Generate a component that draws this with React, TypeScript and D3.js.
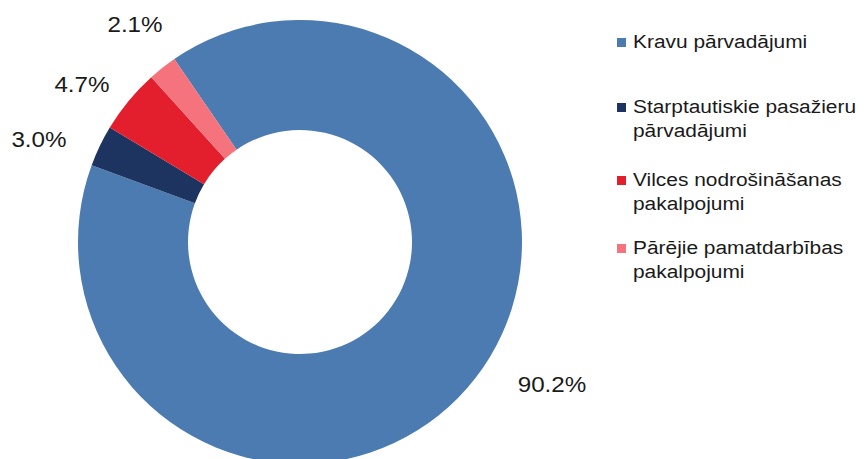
import React from "react";
import * as d3 from "d3";

const categories = [
  "Kravu pārvadājumi",
  "Starptautiskie pasažieru pārvadājumi",
  "Vilces nodrošināšanas pakalpojumi",
  "Pārējie pamatdarbības pakalpojumi",
];
const legendLines = [
  ["Kravu pārvadājumi"],
  ["Starptautiskie pasažieru", "pārvadājumi"],
  ["Vilces nodrošināšanas", "pakalpojumi"],
  ["Pārējie pamatdarbības", "pakalpojumi"],
];
const values = [90.2, 3.0, 4.7, 2.1];
const valueLabels = ["90.2%", "3.0%", "4.7%", "2.1%"];
const colors = ["#4b7bb0", "#1d3461", "#e41f2d", "#f5737d"];

const W = 866;
const H = 459;
const cx = 300;
const cy = 242;
const outerR = 222;
const innerR = 112;
const startAngle = (-34.5 * Math.PI) / 180;

// label anchor positions (text center x, baseline y) relative to chart
const labelPos = [
  { x: 552, y: 392 },
  { x: 39, y: 147 },
  { x: 82, y: 92 },
  { x: 135, y: 32 },
];

const legendX = 617;
const legendBaselines = [48, 113, 186, 254];
const legendLineH = 24;

export default function App() {
  const pie = d3
    .pie<number>()
    .sort(null)
    .startAngle(startAngle)
    .endAngle(startAngle + 2 * Math.PI)
    .value((d) => d);
  const arcs = pie(values);
  const arc = d3.arc<d3.PieArcDatum<number>>().innerRadius(innerR).outerRadius(outerR);
  const font = "'Liberation Sans', Arial, sans-serif";

  return (
    <svg
      width={W}
      height={H}
      style={{ position: "absolute", left: 0, top: 0, background: "#fff" }}
    >
      <g transform={`translate(${cx},${cy})`}>
        {arcs.map((a, i) => (
          <path key={i} d={arc(a) || ""} fill={colors[i]} />
        ))}
      </g>
      {valueLabels.map((t, i) => (
        <text
          key={i}
          x={labelPos[i].x}
          y={labelPos[i].y}
          textAnchor="middle"
          fontFamily={font}
          fontSize={22}
          fill="#1a1a1a"
          transform={`translate(${labelPos[i].x},0) scale(1.1,1) translate(${-labelPos[i].x},0)`}
        >
          {t}
        </text>
      ))}
      {categories.map((c, i) => (
        <g key={c}>
          <rect
            x={legendX}
            y={legendBaselines[i] - 10}
            width={9}
            height={9}
            fill={colors[i]}
          />
          <text
            fontFamily={font}
            fontSize={19}
            fill="#1a1a1a"
            transform={`translate(${legendX + 16},0) scale(1.1,1)`}
          >
            {legendLines[i].map((l, j) => (
              <tspan key={j} x={0} y={legendBaselines[i] + j * legendLineH}>
                {l}
              </tspan>
            ))}
          </text>
        </g>
      ))}
    </svg>
  );
}
